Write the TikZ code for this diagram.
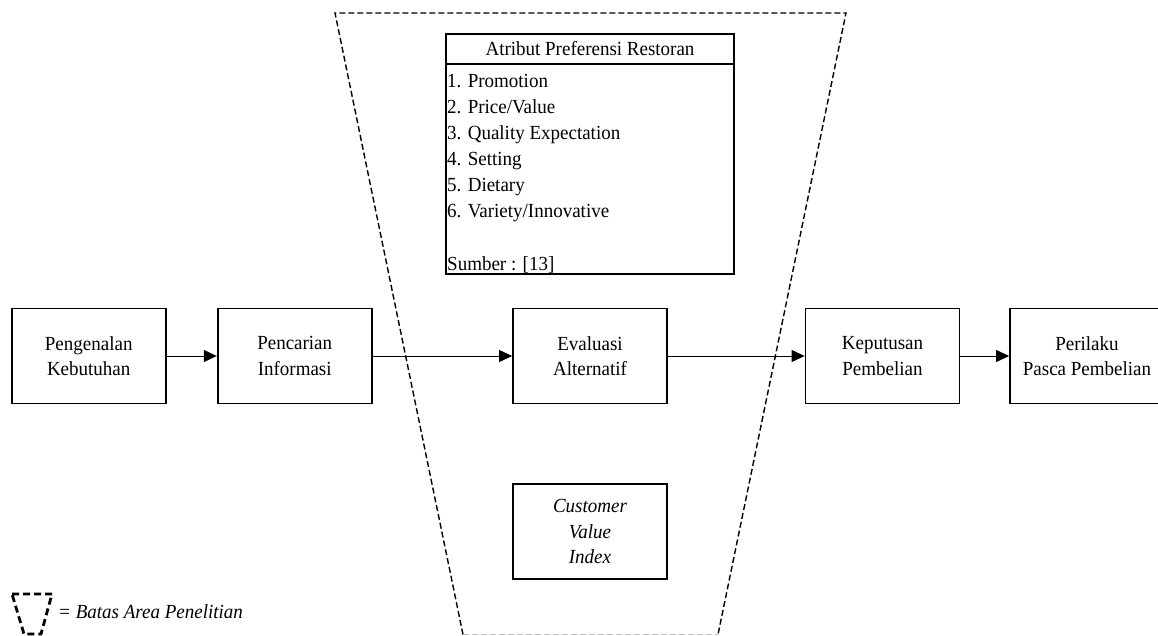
\documentclass[tikz,border=0pt]{standalone}
\usepackage{fontspec}
\setmainfont[FakeStretch=0.95]{Liberation Serif}
\usetikzlibrary{arrows.meta}
\begin{document}
\begin{tikzpicture}[x=1pt,y=-1pt,
  box/.style={draw, line width=1.8pt, minimum width=154pt, minimum height=95pt, align=center, inner sep=0pt, font=\fontsize{20}{25.5}\selectfont},
  flow/.style={-{Triangle[length=13pt,width=12pt]}, line width=1pt},
  area/.style={line width=1.4pt, dash pattern=on 6pt off 3pt},
  txt/.style={font=\fontsize{20}{25.5}\selectfont, inner sep=0pt}]
\useasboundingbox (0,0) rectangle (1158,636);
\begin{scope}
\clip (0,0) rectangle (1158,636);
% research area boundary
\coordinate (tl) at (335,13);
\coordinate (tr) at (846,13);
\coordinate (bl) at (463,634.5);
\coordinate (br) at (718,634.5);
\draw[area] (bl) -- (tl) -- (tr) -- (br);
\draw[area, gray!50, line width=0.9pt] (bl) -- (br);
% process boxes
\node[box] (b1) at (88.7,356) {Pengenalan\\Kebutuhan};
\node[box] (b2) at (294.7,356) {Pencarian\\Informasi};
\node[box] (b3) at (590,356) {Evaluasi\\Alternatif};
\node[box] (b4) at (882.5,356) {Keputusan\\Pembelian};
\node[box] (b5) at (1087,356) {Perilaku\\Pasca Pembelian};
\draw[flow] (b1) -- (b2);
\draw[flow] (b2) -- (b3);
\draw[flow] (b3) -- (b4);
\draw[flow] (b4) -- (b5);
% attribute box
\node[draw, line width=1.8pt, minimum width=288pt, minimum height=240pt, inner sep=0pt] (attr) at (590,154.2) {};
\draw[line width=1.8pt] ([yshift=-31pt]attr.north west) -- ([yshift=-31pt]attr.north east);
\node[txt, anchor=base] (hdr) at (590,56) {Atribut Preferensi Restoran};
\node[txt, anchor=base west] (i1) at (447,87.3) {1. Promotion};
\node[txt, anchor=base west] (i2) at (447,113.4) {2. Price/Value};
\node[txt, anchor=base west] (i3) at (447,139.5) {3. Quality Expectation};
\node[txt, anchor=base west] (i4) at (447,165.6) {4. Setting};
\node[txt, anchor=base west] (i5) at (447,191.7) {5. Dietary};
\node[txt, anchor=base west] (i6) at (447,217.8) {6. Variety/Innovative};
\node[txt, anchor=base west] (src) at (447,270) {Sumber : [13]};
% customer value index
\node[box, font=\itshape\fontsize{20}{25.5}\selectfont] (cvi) at (590,531.7) {Customer\\Value\\Index};
% legend
\draw[line width=2.8pt, dash pattern=on 7pt off 4pt] (12,594) -- (52,594) -- (41,634) -- (24,634) -- cycle;
\node[txt, font=\itshape\fontsize{20}{25.5}\selectfont, anchor=base west] (leg) at (58,618.5) {= Batas Area Penelitian};
\end{scope}
\end{tikzpicture}
\end{document}
